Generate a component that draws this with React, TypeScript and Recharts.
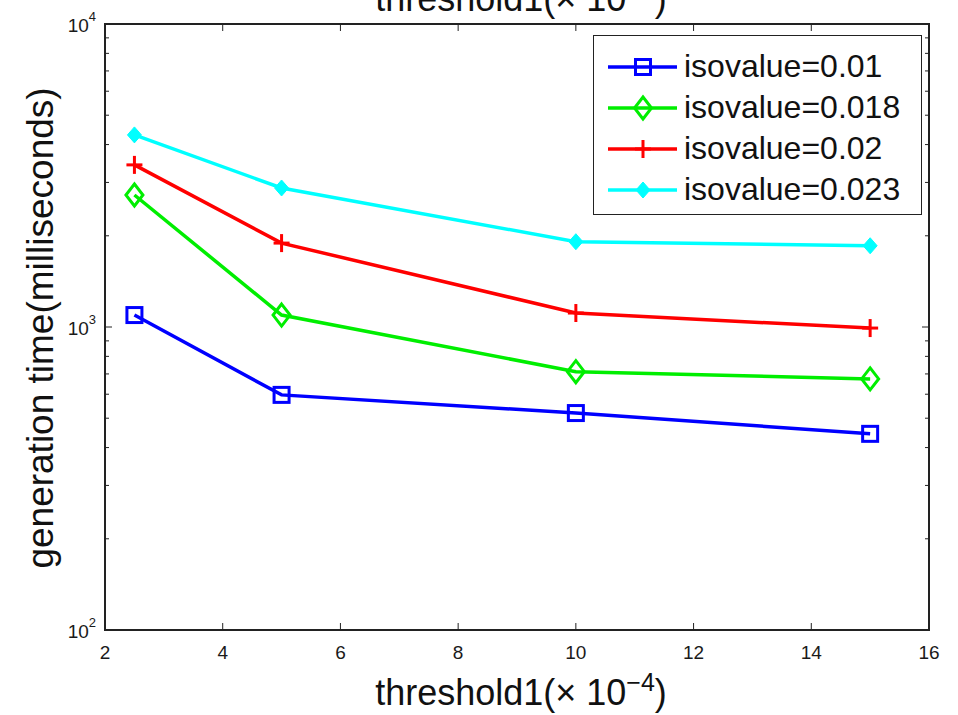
import React from 'react';
import { LineChart, Line, XAxis, YAxis, Legend, ReferenceArea } from 'recharts';

// threshold1 (x 1e-4) on the x axis, generation time in ms on a log y axis
const thresholds = [2.5, 5, 10, 15];
const iso001 = [1095, 597, 520, 444];
const iso0018 = [2727, 1095, 712, 674];
const iso002 = [3428, 1892, 1112, 992];
const iso0023 = [4305, 2876, 1912, 1854];

const xTicks = [2, 4, 6, 8, 10, 12, 14, 16];
const yTicks = [
  100, 200, 300, 400, 500, 600, 700, 800, 900,
  1000, 2000, 3000, 4000, 5000, 6000, 7000, 8000, 9000, 10000,
];

const FONT = '"Liberation Sans", Arial, Helvetica, sans-serif';
const AXIS_COLOR = '#222';

// plot box (kept in sync with chart margins / axis sizes below)
const PLOT_LEFT = 105;
const PLOT_RIGHT = 929;
const PLOT_TOP = 24;
const PLOT_BOTTOM = 630;

type Marker = 'square' | 'diamond' | 'plus' | 'filledDiamond';

const seriesList: { key: string; name: string; color: string; marker: Marker; values: number[] }[] = [
  { key: 'iso001', name: 'isovalue=0.01', color: '#0000ff', marker: 'square', values: iso001 },
  { key: 'iso0018', name: 'isovalue=0.018', color: '#00ee00', marker: 'diamond', values: iso0018 },
  { key: 'iso002', name: 'isovalue=0.02', color: '#ff0000', marker: 'plus', values: iso002 },
  { key: 'iso0023', name: 'isovalue=0.023', color: '#00ffff', marker: 'filledDiamond', values: iso0023 },
];

const data = thresholds.map((t, i) => {
  const row: { [k: string]: number } = { threshold: t };
  seriesList.forEach((s) => {
    row[s.key] = s.values[i];
  });
  return row;
});

function MarkerShape({ type, cx, cy, color }: { type: Marker; cx: number; cy: number; color: string }) {
  switch (type) {
    case 'square':
      return <rect x={cx - 7.5} y={cy - 7.5} width={15} height={15} fill="none" stroke={color} strokeWidth={3} />;
    case 'diamond':
      return (
        <polygon
          points={`${cx},${cy - 11} ${cx + 8.5},${cy} ${cx},${cy + 11} ${cx - 8.5},${cy}`}
          fill="none"
          stroke={color}
          strokeWidth={3}
        />
      );
    case 'plus':
      return (
        <g stroke={color} strokeWidth={3}>
          <line x1={cx - 8} x2={cx + 8} y1={cy} y2={cy} />
          <line x1={cx} x2={cx} y1={cy - 9} y2={cy + 9} />
        </g>
      );
    case 'filledDiamond':
    default:
      return (
        <polygon
          points={`${cx},${cy - 8} ${cx + 7},${cy} ${cx},${cy + 8} ${cx - 7},${cy}`}
          fill={color}
          stroke={color}
          strokeWidth={1}
        />
      );
  }
}

const makeDot = (type: Marker, color: string) => (props: any) => {
  const { cx, cy, index } = props;
  if (cx == null || cy == null) return <g key={`d-${index}`} />;
  return <MarkerShape key={`d-${index}`} type={type} cx={cx} cy={cy} color={color} />;
};

// x ticks: label below, inward tick marks at bottom and top of the box
const XTick = (props: any) => {
  const { x, payload } = props;
  return (
    <g>
      <line x1={x} x2={x} y1={PLOT_BOTTOM} y2={PLOT_BOTTOM - 7} stroke={AXIS_COLOR} strokeWidth={1} />
      <line x1={x} x2={x} y1={PLOT_TOP} y2={PLOT_TOP + 7} stroke={AXIS_COLOR} strokeWidth={1} />
      <text x={x} y={PLOT_BOTTOM + 29} textAnchor="middle" fontSize={19} fill="#1a1a1a" fontFamily={FONT}>
        {payload.value}
      </text>
    </g>
  );
};

// y ticks on the log axis: 10^n labels for decades, short marks for minors
const YTick = (props: any) => {
  const { y, payload } = props;
  const exp = Math.log10(payload.value);
  const major = Math.abs(exp - Math.round(exp)) < 1e-6;
  const len = major ? 7 : 4;
  return (
    <g>
      <line x1={PLOT_LEFT} x2={PLOT_LEFT + len} y1={y} y2={y} stroke={AXIS_COLOR} strokeWidth={1} />
      <line x1={PLOT_RIGHT - len} x2={PLOT_RIGHT} y1={y} y2={y} stroke={AXIS_COLOR} strokeWidth={1} />
      {major && (
        <text x={PLOT_LEFT - 9} y={y + 8} textAnchor="end" fontSize={19} fill="#1a1a1a" fontFamily={FONT}>
          10
          <tspan dy={-11} fontSize={13}>{Math.round(exp)}</tspan>
        </text>
      )}
    </g>
  );
};

const ThresholdTitle = ({ y }: { y: number }) => (
  <text x={(PLOT_LEFT + PLOT_RIGHT) / 2 + 4} y={y} textAnchor="middle" fontSize={36} fill="#111" fontFamily={FONT}>
    threshold1(× 10
    <tspan dy={-14} fontSize={25}>{'\u22124'}</tspan>
    <tspan dy={14}>)</tspan>
  </text>
);

const YTitle = () => (
  <text
    x={40}
    y={328}
    transform="rotate(-90, 40, 328)"
    textAnchor="middle"
    dominantBaseline="central"
    fontSize={37}
    fill="#111"
    fontFamily={FONT}
  >
    generation time(milliseconds)
  </text>
);

const renderLegend = (props: any) => {
  const { payload } = props;
  return (
    <div
      style={{
        width: 329,
        height: 180,
        boxSizing: 'border-box',
        border: `1.5px solid ${AXIS_COLOR}`,
        background: '#fff',
        paddingTop: 10,
        fontFamily: FONT,
      }}
    >
      {(payload || []).map((entry: any) => {
        const s = seriesList.find((it) => it.key === entry.dataKey) || seriesList[0];
        return (
          <div key={s.key} style={{ height: 41, display: 'flex', alignItems: 'center' }}>
            <svg width={90} height={30} style={{ flex: 'none' }}>
              <line x1={14} x2={83} y1={15} y2={15} stroke={s.color} strokeWidth={3.5} />
              <MarkerShape type={s.marker} cx={49} cy={15} color={s.color} />
            </svg>
            <span style={{ fontSize: 32, color: '#111', whiteSpace: 'nowrap' }}>{s.name}</span>
          </div>
        );
      })}
    </div>
  );
};

export default function App() {
  return (
    <div style={{ position: 'absolute', left: 0, top: 0, width: 958, height: 715, background: '#fff', overflow: 'hidden' }}>
      <LineChart
        width={958}
        height={715}
        data={data}
        margin={{ top: PLOT_TOP, right: 958 - PLOT_RIGHT, left: 0, bottom: 0 }}
      >
        <XAxis
          dataKey="threshold"
          type="number"
          domain={[2, 16]}
          ticks={xTicks}
          tick={<XTick />}
          tickLine={false}
          axisLine={false}
          height={715 - PLOT_BOTTOM}
          label={{ content: () => <ThresholdTitle y={705} /> }}
        />
        <YAxis
          scale="log"
          domain={[100, 10000]}
          ticks={yTicks}
          tick={<YTick />}
          tickLine={false}
          axisLine={false}
          width={PLOT_LEFT}
          allowDataOverflow
          interval={0}
          label={{ content: () => <YTitle /> }}
        />
        <ReferenceArea
          x1={2}
          x2={16}
          y1={100}
          y2={10000}
          fill="none"
          fillOpacity={0}
          stroke={AXIS_COLOR}
          strokeWidth={2}
          ifOverflow="visible"
        />
        {seriesList.map((s) => (
          <Line
            key={s.key}
            type="linear"
            dataKey={s.key}
            name={s.name}
            stroke={s.color}
            strokeWidth={3.5}
            dot={makeDot(s.marker, s.color)}
            activeDot={false}
            isAnimationActive={false}
          />
        ))}
        <Legend
          layout="vertical"
          align="center"
          verticalAlign="middle"
          content={renderLegend}
          wrapperStyle={{ left: 593, top: 35, width: 329, height: 180 }}
        />
        <ThresholdTitle y={11} />
      </LineChart>
    </div>
  );
}
